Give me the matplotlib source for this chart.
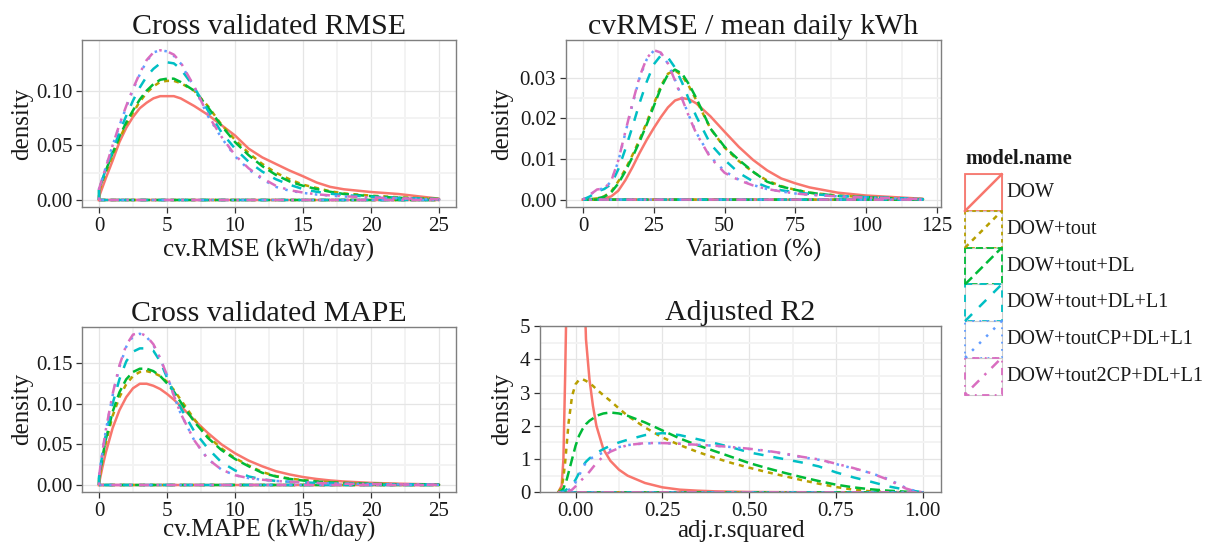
import matplotlib
matplotlib.use("Agg")
import matplotlib.pyplot as plt
from matplotlib.patches import Rectangle

plt.rcParams['font.family'] = ['Liberation Serif', 'DejaVu Serif']

# ==========================================
# data
# ==========================================
MODELS = ['DOW', 'DOW+tout', 'DOW+tout+DL', 'DOW+tout+DL+L1',
          'DOW+toutCP+DL+L1', 'DOW+tout2CP+DL+L1']
COLORS = ['#F8766D', '#B79F00', '#00BA38', '#00BFC4', '#619CFF', '#D96DC0']
DASHES = ['-', (0, (2, 2)), (0, (4, 2)), (0, (4, 4)), (0, (1, 3)), (0, (1, 3, 4, 3))]

# --- cross validated RMSE
rmse_x = [0, 0.5, 1, 1.5, 2, 2.5, 3, 3.5, 4, 4.5, 5, 5.5, 6, 7, 8, 9, 10, 11, 12,
          13, 14, 15, 16, 17, 18, 20, 22, 25]
rmse_y = {
    'DOW': [0.003, 0.02, 0.036, 0.053, 0.066, 0.076, 0.084, 0.089, 0.093, 0.095, 0.095, 0.095,
            0.093, 0.086, 0.078, 0.0685, 0.059, 0.047, 0.039, 0.033, 0.027, 0.0217, 0.016,
            0.012, 0.0098, 0.0073, 0.0055, 0.0012],
    'DOW+tout': [0.008, 0.025, 0.041, 0.056, 0.069, 0.08, 0.09, 0.098, 0.104, 0.108, 0.109,
                 0.109, 0.107, 0.1, 0.086, 0.069, 0.055, 0.043, 0.033, 0.025, 0.019, 0.014,
                 0.011, 0.008, 0.006, 0.004, 0.0025, 0.001],
    'DOW+tout+DL': [0.01, 0.027, 0.043, 0.058, 0.071, 0.082, 0.092, 0.1, 0.106, 0.11, 0.111,
                    0.111, 0.108, 0.1, 0.085, 0.068, 0.053, 0.041, 0.031, 0.023, 0.017, 0.013,
                    0.01, 0.0075, 0.0055, 0.0035, 0.002, 0.0008],
    'DOW+tout+DL+L1': [0.01, 0.028, 0.045, 0.062, 0.077, 0.091, 0.103, 0.113, 0.12, 0.125,
                       0.126, 0.125, 0.12, 0.103, 0.082, 0.062, 0.047, 0.035, 0.026, 0.019,
                       0.014, 0.01, 0.0075, 0.0058, 0.0045, 0.003, 0.002, 0.0008],
    'DOW+toutCP+DL+L1': [0.01, 0.03, 0.05, 0.068, 0.085, 0.101, 0.115, 0.127, 0.135, 0.137,
                         0.136, 0.132, 0.125, 0.103, 0.077, 0.057, 0.04, 0.028, 0.019, 0.012,
                         0.0085, 0.0065, 0.005, 0.004, 0.0032, 0.0022, 0.0015, 0.0006],
    'DOW+tout2CP+DL+L1': [0.01, 0.03, 0.05, 0.069, 0.086, 0.102, 0.116, 0.128, 0.135, 0.137,
                          0.136, 0.133, 0.126, 0.104, 0.078, 0.058, 0.041, 0.029, 0.02, 0.013,
                          0.009, 0.0068, 0.0052, 0.0042, 0.0034, 0.0023, 0.0016, 0.0006],
}

# --- cvRMSE / mean daily kWh
var_x = [0, 2.5, 5, 7.5, 10, 12.5, 15, 17.5, 20, 22.5, 25, 27.5, 30, 32.5, 35, 37.5, 40,
         45, 50, 55, 60, 65, 70, 75, 80, 90, 100, 110, 120]
var_y = {
    'DOW': [0, 0, 0.0001, 0.0003, 0.0008, 0.0022, 0.0048, 0.008, 0.0115, 0.0147, 0.0176,
            0.0203, 0.0227, 0.0244, 0.025, 0.0247, 0.0237, 0.0205, 0.0167, 0.013, 0.0098,
            0.0072, 0.0052, 0.004, 0.003, 0.0017, 0.001, 0.0006, 0.0002],
    'DOW+tout': [0, 0.0001, 0.0003, 0.0008, 0.002, 0.0045, 0.0075, 0.011, 0.0148, 0.019,
                 0.0235, 0.028, 0.031, 0.0318, 0.0305, 0.0278, 0.0245, 0.0175, 0.0128,
                 0.0095, 0.0068, 0.0047, 0.0033, 0.0024, 0.0017, 0.001, 0.0006, 0.0003, 0.0001],
    'DOW+tout+DL': [0, 0.0001, 0.0003, 0.0007, 0.0018, 0.004, 0.007, 0.0105, 0.0143, 0.0185,
                    0.023, 0.0275, 0.0308, 0.032, 0.031, 0.0283, 0.025, 0.0175, 0.013, 0.0098,
                    0.0069, 0.0044, 0.0032, 0.0024, 0.0017, 0.0009, 0.0006, 0.0003, 0.0001],
    'DOW+tout+DL+L1': [0, 0.0008, 0.002, 0.0026, 0.0038, 0.0075, 0.0125, 0.018, 0.0238, 0.029,
                       0.0333, 0.0355, 0.035, 0.0325, 0.0288, 0.0245, 0.0205, 0.0137, 0.0098,
                       0.0066, 0.0045, 0.0031, 0.0023, 0.0018, 0.0014, 0.0009, 0.0006, 0.0004,
                       0.0001],
    'DOW+toutCP+DL+L1': [0, 0.0012, 0.0025, 0.0027, 0.0045, 0.0095, 0.0165, 0.0235, 0.03,
                         0.0345, 0.0367, 0.036, 0.0335, 0.0295, 0.025, 0.0205, 0.0165, 0.0105,
                         0.007, 0.0049, 0.0036, 0.0026, 0.002, 0.0015, 0.0012, 0.0008, 0.0005,
                         0.0003, 0.0001],
    'DOW+tout2CP+DL+L1': [0, 0.0012, 0.0025, 0.0027, 0.0046, 0.0097, 0.0168, 0.0238, 0.0303,
                          0.0348, 0.0368, 0.0362, 0.0335, 0.0293, 0.0248, 0.0203, 0.0163,
                          0.0103, 0.0066, 0.0048, 0.0035, 0.0026, 0.002, 0.0015, 0.0012, 0.0008,
                          0.0005, 0.0003, 0.0001],
}

# --- cross validated MAPE
mape_x = [0, 0.25, 0.5, 1, 1.5, 2, 2.5, 3, 3.5, 4, 4.5, 5, 5.5, 6, 7, 8, 9, 10, 11, 12, 13,
          14, 15, 16, 17, 18, 20, 22, 25]
mape_y = {
    'DOW': [0.002, 0.022, 0.04, 0.07, 0.092, 0.108, 0.119, 0.1245, 0.1245, 0.122, 0.118, 0.112,
            0.105, 0.097, 0.08, 0.064, 0.05, 0.039, 0.03, 0.023, 0.017, 0.013, 0.0098, 0.0074,
            0.0056, 0.0043, 0.0026, 0.0016, 0.0006],
    'DOW+tout': [0.005, 0.03, 0.052, 0.085, 0.108, 0.124, 0.134, 0.139, 0.14, 0.138, 0.134,
                 0.127, 0.117, 0.105, 0.081, 0.06, 0.045, 0.033, 0.024, 0.016, 0.011, 0.008,
                 0.006, 0.0045, 0.0035, 0.0027, 0.0016, 0.001, 0.0004],
    'DOW+tout+DL': [0.008, 0.034, 0.056, 0.09, 0.114, 0.13, 0.139, 0.143, 0.143, 0.14, 0.134,
                    0.125, 0.115, 0.102, 0.078, 0.058, 0.043, 0.032, 0.023, 0.015, 0.0105,
                    0.0075, 0.0055, 0.0042, 0.0032, 0.0025, 0.0015, 0.0009, 0.0004],
    'DOW+tout+DL+L1': [0.01, 0.038, 0.062, 0.1, 0.13, 0.152, 0.164, 0.168, 0.168, 0.165, 0.152,
                       0.132, 0.113, 0.095, 0.066, 0.045, 0.028, 0.018, 0.0105, 0.007, 0.005,
                       0.004, 0.0032, 0.0026, 0.0021, 0.0017, 0.0011, 0.0007, 0.0003],
    'DOW+toutCP+DL+L1': [0.01, 0.04, 0.067, 0.11, 0.145, 0.17, 0.183, 0.186, 0.182, 0.172,
                         0.155, 0.135, 0.11, 0.088, 0.055, 0.032, 0.019, 0.012, 0.0085, 0.0065,
                         0.005, 0.004, 0.0032, 0.0025, 0.002, 0.0016, 0.0011, 0.0007, 0.0003],
    'DOW+tout2CP+DL+L1': [0.01, 0.041, 0.068, 0.112, 0.147, 0.172, 0.185, 0.187, 0.183, 0.173,
                          0.156, 0.135, 0.11, 0.088, 0.055, 0.032, 0.019, 0.012, 0.0085,
                          0.0065, 0.005, 0.004, 0.0032, 0.0025, 0.002, 0.0016, 0.0011, 0.0007,
                          0.0003],
}

# --- adjusted R2
r2_x = [-0.05, -0.04, -0.035, -0.03, -0.025, -0.02, -0.01, 0, 0.01, 0.02, 0.03, 0.04, 0.05,
        0.06, 0.08, 0.1, 0.125, 0.15, 0.2, 0.25, 0.3, 0.35, 0.4, 0.45, 0.5, 0.55, 0.6, 0.65,
        0.7, 0.75, 0.8, 0.85, 0.9, 0.95, 0.975, 1.0]
r2_y = {
    'DOW': [0, 0.2, 1.0, 3.5, 6.5, 10, 14, 15, 13, 8, 4.6, 3.4, 2.6, 2.0, 1.3, 0.95, 0.68, 0.5,
            0.28, 0.15, 0.08, 0.05, 0.03, 0.02, 0.012, 0.008, 0.005, 0.003, 0.002, 0.001,
            0.0005, 0.0003, 0.0002, 0.0001, 0, 0],
    'DOW+tout': [0, 0.15, 0.45, 0.9, 1.5, 2.1, 2.9, 3.25, 3.38, 3.4, 3.35, 3.28, 3.2, 3.1, 2.92,
                 2.75, 2.52, 2.3, 1.95, 1.65, 1.42, 1.22, 1.04, 0.88, 0.74, 0.61, 0.49, 0.37,
                 0.26, 0.16, 0.08, 0.03, 0.01, 0.003, 0.001, 0],
    'DOW+tout+DL': [0, 0.05, 0.12, 0.25, 0.4, 0.6, 1.0, 1.4, 1.7, 1.9, 2.05, 2.15, 2.22, 2.3,
                    2.37, 2.4, 2.37, 2.3, 2.1, 1.86, 1.62, 1.42, 1.24, 1.06, 0.88, 0.73, 0.59,
                    0.46, 0.34, 0.23, 0.15, 0.09, 0.05, 0.02, 0.01, 0],
    'DOW+tout+DL+L1': [0, 0.02, 0.04, 0.06, 0.09, 0.12, 0.22, 0.38, 0.58, 0.78, 0.92, 1.02, 1.1,
                       1.18, 1.3, 1.4, 1.5, 1.58, 1.72, 1.78, 1.72, 1.6, 1.48, 1.35, 1.2, 1.1,
                       1.0, 0.9, 0.78, 0.6, 0.45, 0.32, 0.18, 0.08, 0.04, 0],
    'DOW+toutCP+DL+L1': [0, 0.01, 0.02, 0.03, 0.05, 0.07, 0.15, 0.3, 0.5, 0.72, 0.9, 1.0, 1.05,
                         1.1, 1.2, 1.28, 1.36, 1.42, 1.47, 1.48, 1.46, 1.43, 1.4, 1.36, 1.3,
                         1.24, 1.16, 1.06, 0.98, 0.85, 0.72, 0.58, 0.4, 0.14, 0.05, 0],
    'DOW+tout2CP+DL+L1': [0, 0.005, 0.01, 0.015, 0.02, 0.03, 0.08, 0.18, 0.3, 0.4, 0.5, 0.62,
                          0.75, 0.88, 1.08, 1.22, 1.33, 1.42, 1.48, 1.48, 1.46, 1.43, 1.4, 1.36,
                          1.31, 1.25, 1.17, 1.07, 0.99, 0.86, 0.73, 0.58, 0.38, 0.12, 0.04, 0],
}

# ==========================================
# layout / styling
# ==========================================
TEXT = '#1a1a1a'
PANELS = [
    # data x, data y, title, xlabel, rect, xlim, ylim, xticks, yticks, xfmt, yfmt,
    # ylabel x, xlabel y
    (rmse_x, rmse_y, 'Cross validated RMSE', 'cv.RMSE (kWh/day)',
     [0.0679, 0.6189, 0.3096, 0.3076], (-1.25, 26.25), (-0.0067, 0.1464),
     [0, 5, 10, 15, 20, 25], [0, 0.05, 0.10], '{:g}', '{:.2f}', -0.131, -0.19),
    (var_x, var_y, 'cvRMSE / mean daily kWh', 'Variation (%)',
     [0.4685, 0.6189, 0.3105, 0.3076], (-6.0, 126.4), (-0.0019, 0.0393),
     [0, 25, 50, 75, 100, 125], [0, 0.01, 0.02, 0.03], '{:g}', '{:.2f}', -0.141, -0.19),
    (mape_x, mape_y, 'Cross validated MAPE', 'cv.MAPE (kWh/day)',
     [0.0679, 0.0956, 0.3096, 0.3039], (-1.25, 26.25), (-0.0086, 0.1947),
     [0, 5, 10, 15, 20, 25], [0, 0.05, 0.10, 0.15], '{:g}', '{:.2f}', -0.131, -0.165),
    (r2_x, r2_y, 'Adjusted R2', 'adj.r.squared',
     [0.4470, 0.0950, 0.3320, 0.3058], (-0.1025, 1.0525), (0, 5),
     [0, 0.25, 0.5, 0.75, 1.0], [0, 1, 2, 3, 4, 5], '{:.2f}', '{:g}', -0.067, -0.165),
]

fig = plt.figure(figsize=(12.08, 5.44), dpi=100)

for (xs, ys, title, xlabel, rect, xlim, ylim, xt, yt, xfmt, yfmt,
     ylab_x, xlab_y) in PANELS:
    ax = fig.add_axes(rect)
    for name, color, ls in zip(MODELS, COLORS, DASHES):
        # density drawn as a closed outline, like geom_density
        px = [xs[0]] + list(xs) + [xs[-1], xs[0]]
        py = [0] + list(ys[name]) + [0, 0]
        ax.plot(px, py, color=color, linestyle=ls, linewidth=1.8,
                solid_joinstyle='round', dash_capstyle='butt')
    ax.set_xlim(*xlim)
    ax.set_ylim(*ylim)
    ax.set_xticks(xt)
    ax.set_xticklabels([xfmt.format(v) for v in xt])
    ax.set_yticks(yt)
    ax.set_yticklabels([yfmt.format(v) for v in yt])
    ax.set_xticks([(a + b) / 2 for a, b in zip(xt[:-1], xt[1:])], minor=True)
    ax.set_yticks([(a + b) / 2 for a, b in zip(yt[:-1], yt[1:])], minor=True)
    ax.grid(True, which='major', color='#E5E5E5', linewidth=0.9)
    ax.grid(True, which='minor', color='#F3F3F3', linewidth=1.4)
    ax.set_axisbelow(True)
    for sp in ax.spines.values():
        sp.set_color('#7F7F7F')
        sp.set_linewidth(1.0)
    ax.tick_params(which='major', length=4.5, width=0.9, color='#333333',
                   labelsize=15, labelcolor=TEXT, pad=2.5)
    ax.tick_params(which='minor', length=0)
    ax.set_title(title, fontsize=21.5, color=TEXT, pad=4)
    ax.set_xlabel(xlabel, fontsize=18, color=TEXT)
    ax.xaxis.set_label_coords(0.5, xlab_y)
    ax.set_ylabel('density', fontsize=18, color=TEXT)
    ax.yaxis.set_label_coords(ylab_x, 0.5)

# --- legend drawn by hand (ggplot style key boxes)
lax = fig.add_axes([0, 0, 1, 1])
lax.set_xlim(0, 1208)
lax.set_ylim(544, 0)
lax.axis('off')
lax.text(965, 159, 'model.name', fontsize=14.8, fontweight='bold', color=TEXT,
         ha='left', va='center')
key = 36.7
for i, (name, color, ls) in enumerate(zip(MODELS, COLORS, DASHES)):
    top = 174.3 + i * key
    lax.add_patch(Rectangle((965, top), key, key, fill=False, edgecolor='#CCCCCC', linewidth=0.8))
    lax.add_patch(Rectangle((965, top), key, key, fill=False, edgecolor=color,
                            linestyle=ls, linewidth=1.3))
    lax.plot([965, 965 + key], [top + key, top], color=color, linestyle=ls, linewidth=1.8)
    lax.text(1006.7, top + key / 2, name, fontsize=14.5, color=TEXT, ha='left', va='center')

fig.savefig('out.png', dpi=100)
